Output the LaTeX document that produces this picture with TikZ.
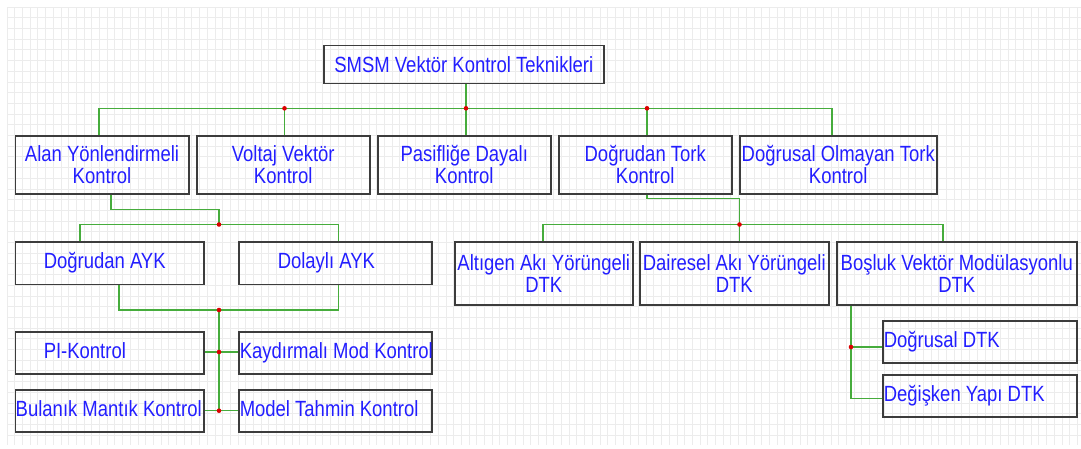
\documentclass[tikz,border=0pt]{standalone}
\usepackage{fontspec}
\setmainfont{Liberation Sans}[FakeStretch=0.84]
\definecolor{txtblue}{RGB}{35,30,255}
\definecolor{lnk}{RGB}{70,172,60}
\definecolor{dotred}{RGB}{220,0,0}
\definecolor{gridc}{RGB}{236,236,236}
\definecolor{boxc}{RGB}{60,60,60}
\newcommand{\lblfont}{\fontsize{22}{22}\selectfont}
\newcommand{\lefttxt}[3]{\makebox[#1][l]{\hspace*{#2}#3}}
\begin{document}
\begin{tikzpicture}[x=1pt,y=-1pt,
  box/.style={draw=boxc, line width=1.5pt, inner sep=0pt, anchor=north west, text=txtblue, font=\lblfont, align=center},
  lbox/.style={draw=boxc, line width=1.5pt, inner sep=0pt, anchor=north west, text=txtblue, font=\lblfont, text height=16pt, text depth=5pt},
  link/.style={draw=lnk, line width=1.3pt},
  gridline/.style={draw=gridc, line width=0.8pt}
]
\useasboundingbox (0,0) rectangle (1081,448);
\fill[white] (0,0) rectangle (1081,448);
\foreach \i in {0,...,139} \draw[gridline] ({7+7.7*\i},7) -- ({7+7.7*\i},445);
\foreach \j in {0,...,40} \draw[gridline] (7,{7+10.7*\j}) -- (1081,{7+10.7*\j});

% boxes
\node[box, minimum width=280pt, minimum height=38pt] (root) at (323,44.5) {SMSM Vektör Kontrol Teknikleri};

\node[box, minimum width=173.5pt, minimum height=58pt] (alan) at (14.5,135) {Alan Yönlendirmeli\\Kontrol};
\node[box, minimum width=173pt, minimum height=58pt] (voltaj) at (196,135) {Voltaj Vektör\\Kontrol};
\node[box, minimum width=173pt, minimum height=58pt] (pasif) at (377,135) {Pasifliğe Dayalı\\Kontrol};
\node[box, minimum width=173pt, minimum height=58pt] (dtork) at (558,135) {Doğrudan Tork\\Kontrol};
\node[box, minimum width=197pt, minimum height=58pt] (dotork) at (739,135) {Doğrusal Olmayan Tork\\Kontrol};

\node[lbox, minimum height=42.5pt] (dayk) at (14.5,241) {\lefttxt{188.5pt}{28.5pt}{Doğrudan AYK}};
\node[lbox, minimum height=42.5pt] (iayk) at (238,241) {\lefttxt{193pt}{39pt}{Dolaylı AYK}};

\node[box, minimum width=178pt, minimum height=63pt] (altigen) at (454,241) {Altıgen Akı Yörüngeli\\DTK};
\node[box, minimum width=189pt, minimum height=63pt] (daire) at (639,241) {Dairesel Akı Yörüngeli\\DTK};
\node[box, minimum width=240pt, minimum height=63pt] (bosluk) at (836,241) {Boşluk Vektör Modülasyonlu\\DTK};

\node[lbox, minimum height=42pt] (pi) at (14.5,331) {\lefttxt{188.5pt}{28.5pt}{PI-Kontrol}};
\node[lbox, minimum height=42pt] (kay) at (238,331) {\lefttxt{193pt}{1pt}{Kaydırmalı Mod Kontrol}};
\node[lbox, minimum height=42pt] (bul) at (14.5,389) {\lefttxt{188.5pt}{0.5pt}{Bulanık Mantık Kontrol}};
\node[lbox, minimum height=42pt] (mod) at (238,389) {\lefttxt{193pt}{1pt}{Model Tahmin Kontrol}};

\node[lbox, minimum height=42pt] (dogdtk) at (882,320) {\lefttxt{194pt}{1pt}{Doğrusal DTK}};
\node[lbox, minimum height=42pt] (degdtk) at (882,374) {\lefttxt{194pt}{1pt}{Değişken Yapı DTK}};

% junctions and bends
\coordinate (bL) at (99,108.3);
\coordinate (d1) at (284.5,108.3);
\coordinate (d2) at (466,108.3);
\coordinate (d3) at (647,108.3);
\coordinate (bR) at (832,108.3);

\coordinate (ak) at (111,209.3);
\coordinate (aL) at (80,224.5);
\coordinate (d4) at (219,224.5);
\coordinate (aR) at (338.5,224.5);

\coordinate (cL) at (119,310);
\coordinate (d5) at (219,310);
\coordinate (cR) at (338.5,310);
\coordinate (d6) at (219,352);
\coordinate (d7) at (219,410.7);

\coordinate (tk) at (647,198.7);
\coordinate (tL) at (543,224.5);
\coordinate (d8) at (739.5,224.5);
\coordinate (tR) at (943,224.5);

\coordinate (d9) at (851,347);
\coordinate (sv) at (851,398.7);

% connectors
\draw[link] (d2 |- root.south) -- (d2);
\draw[link] (bL |- alan.north) -- (bL) -- (d1) -- (d2) -- (d3) -- (bR) -- (bR |- dotork.north);
\draw[link] (d1) -- (d1 |- voltaj.north);
\draw[link] (d2) -- (d2 |- pasif.north);
\draw[link] (d3) -- (d3 |- dtork.north);

\draw[link] (ak |- alan.south) -- (ak) -- (ak -| d4) -- (d4);
\draw[link] (aL |- dayk.north) -- (aL) -- (d4) -- (aR) -- (aR |- iayk.north);

\draw[link] (cL |- dayk.south) -- (cL) -- (d5) -- (cR) -- (cR |- iayk.south);
\draw[link] (d5) -- (d6) -- (d7);
\draw[link] (pi.east |- d6) -- (d6) -- (kay.west |- d6);
\draw[link] (bul.east |- d7) -- (d7) -- (mod.west |- d7);

\draw[link] (tk |- dtork.south) -- (tk) -- (tk -| d8) -- (d8);
\draw[link] (tL |- altigen.north) -- (tL) -- (d8) -- (tR) -- (tR |- bosluk.north);
\draw[link] (d8) -- (d8 |- daire.north);

\draw[link] (sv |- bosluk.south) -- (d9) -- (sv) -- (degdtk.west |- sv);
\draw[link] (d9) -- (dogdtk.west |- d9);

\foreach \d in {d1,d2,d3,d4,d5,d6,d7,d8,d9} \fill[dotred] (\d) circle (2.3pt);
\end{tikzpicture}
\end{document}
